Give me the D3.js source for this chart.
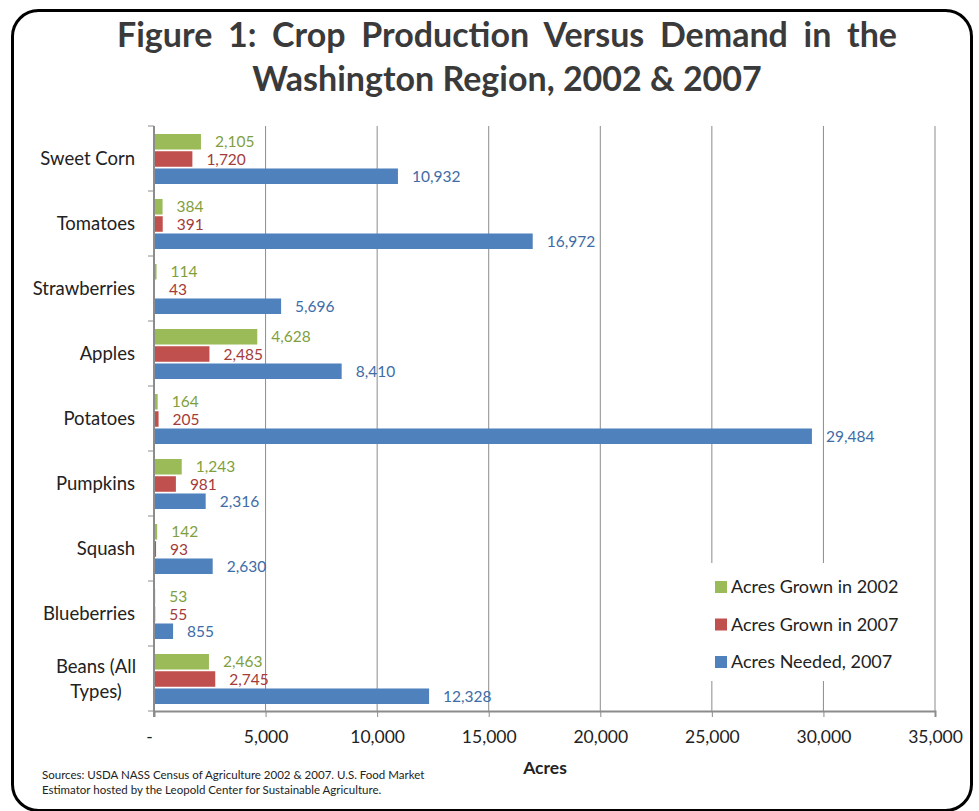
<!DOCTYPE html>
<html>
<head>
<meta charset="utf-8">
<script src="https://cdn.jsdelivr.net/npm/d3@7"></script>
<style>
  html, body { margin: 0; padding: 0; background: #fff; }
  svg { display: block; }
  text { font-family: Lato, "Open Sans", sans-serif; }
</style>
</head>
<body>
<div id="chart"></div>
<script>
const categories = ["Sweet Corn", "Tomatoes", "Strawberries", "Apples", "Potatoes", "Pumpkins", "Squash", "Blueberries", "Beans (All Types)"];
const categoryLines = [["Sweet Corn"], ["Tomatoes"], ["Strawberries"], ["Apples"], ["Potatoes"], ["Pumpkins"], ["Squash"], ["Blueberries"], ["Beans (All", "Types)"]];
const seriesNames = ["Acres Grown in 2002", "Acres Grown in 2007", "Acres Needed, 2007"];
const grown2002 = [2105, 384, 114, 4628, 164, 1243, 142, 53, 2463];
const grown2007 = [1720, 391, 43, 2485, 205, 981, 93, 55, 2745];
const needed2007 = [10932, 16972, 5696, 8410, 29484, 2316, 2630, 855, 12328];
const xTicks = [0, 5000, 10000, 15000, 20000, 25000, 30000, 35000];
const titleLines = ["Figure 1: Crop Production Versus Demand in the", "Washington Region, 2002 & 2007"];
const xAxisTitle = "Acres";
const sourceLines = ["Sources: USDA NASS Census of Agriculture 2002 & 2007.  U.S. Food Market", "Estimator hosted by the Leopold Center for Sustainable Agriculture."];

const barColors = ["#9BBB59", "#C0504D", "#4F81BD"];
const labelColors = ["#7F9F3E", "#A33B39", "#3E6CA6"];
const seriesValues = [grown2002, grown2007, needed2007];

const W = 979, H = 811;
const svg = d3.select("#chart").append("svg").attr("width", W).attr("height", H);

// Frame
svg.append("rect")
  .attr("x", 12.5).attr("y", 10.5).attr("width", 959).attr("height", 800)
  .attr("rx", 26).attr("ry", 26)
  .attr("fill", "#fff").attr("stroke", "#000").attr("stroke-width", 3);

// Title (justified first line)
const t1 = svg.append("text").attr("x", 117).attr("y", 47)
  .attr("font-size", 34).attr("font-weight", 700).attr("fill", "#3a3a3a")
  .text(titleLines[0]);
const w1 = t1.node().getComputedTextLength();
const nSpaces = titleLines[0].split(" ").length - 1;
t1.attr("word-spacing", Math.max(0, (897 - 117 - w1) / nSpaces));
svg.append("text").attr("x", 507).attr("y", 91).attr("text-anchor", "middle")
  .attr("font-size", 34).attr("font-weight", 700).attr("fill", "#3a3a3a")
  .text(titleLines[1]);

// Scales
const pL = 154, pR = 935, pT = 126, pB = 711;
const x = d3.scaleLinear().domain([0, 35000]).range([pL, pR]);
const y = d3.scaleBand().domain(categories).range([pT, pB]).paddingInner(0).paddingOuter(0);
const ySub = d3.scaleBand().domain([0, 1, 2]).range([8, y.bandwidth() - 7]).paddingInner(0.1);

// Gridlines
svg.append("g").selectAll("line").data(xTicks.slice(1)).join("line")
  .attr("x1", d => x(d)).attr("x2", d => x(d))
  .attr("y1", pT).attr("y2", pB)
  .attr("stroke", "#8c8c8c").attr("stroke-width", 1);

// Bars
const groups = svg.append("g").selectAll("g").data(categories).join("g")
  .attr("transform", d => `translate(0,${y(d)})`);
groups.each(function(cat, ci) {
  const g = d3.select(this);
  seriesValues.forEach((vals, si) => {
    g.append("rect")
      .attr("x", x(0)).attr("y", ySub(si))
      .attr("width", Math.max(0, x(vals[ci]) - x(0)))
      .attr("height", ySub.bandwidth())
      .attr("fill", barColors[si]);
    g.append("text")
      .attr("x", x(vals[ci]) + 14)
      .attr("y", ySub(si) + ySub.bandwidth() / 2)
      .attr("dy", "0.36em")
      .attr("font-size", 15.5)
      .attr("fill", labelColors[si])
      .text(d3.format(",")(vals[ci]));
  });
});

// X axis
const xAxis = d3.axisBottom(x).tickValues(xTicks).tickSize(6).tickPadding(14)
  .tickFormat(d => d === 0 ? "-" : d3.format(",")(d));
const gx = svg.append("g").attr("transform", `translate(0,${pB})`).call(xAxis);
gx.select(".domain").attr("stroke", "#8c8c8c").attr("stroke-width", 2);
gx.selectAll(".tick line").attr("stroke", "#8c8c8c");
gx.selectAll(".tick text").attr("font-size", 17.5).attr("fill", "#222").attr("font-family", "Lato, sans-serif");
gx.selectAll(".tick text").filter(d => d === 0).attr("dx", -5);

// Y axis line & ticks at band boundaries
svg.append("line").attr("x1", pL).attr("x2", pL).attr("y1", pT).attr("y2", pB + 6)
  .attr("stroke", "#8c8c8c").attr("stroke-width", 2);
const boundaries = categories.map(c => y(c)).concat([pB]);
svg.append("g").selectAll("line").data(boundaries).join("line")
  .attr("x1", pL - 6).attr("x2", pL).attr("y1", d => d).attr("y2", d => d)
  .attr("stroke", "#8c8c8c").attr("stroke-width", 1);

// Category labels
const catFont = 18.5;
categories.forEach((c, i) => {
  const lines = categoryLines[i];
  const cy = y(c) + y.bandwidth() / 2;
  if (lines.length === 1) {
    svg.append("text").attr("x", 135).attr("y", cy).attr("dy", "0.36em")
      .attr("text-anchor", "end").attr("font-size", catFont).attr("fill", "#222").text(lines[0]);
  } else {
    const tmp = svg.append("text").attr("font-size", catFont).text(lines[0]);
    const wmax = tmp.node().getComputedTextLength();
    tmp.remove();
    const lh = 25;
    lines.forEach((ln, k) => {
      svg.append("text").attr("x", 136 - wmax / 2)
        .attr("y", cy + (k - (lines.length - 1) / 2) * lh).attr("dy", "0.36em")
        .attr("text-anchor", "middle").attr("font-size", catFont).attr("fill", "#222").text(ln);
    });
  }
});

// Legend
const lg = svg.append("g");
lg.append("rect").attr("x", 703).attr("y", 563).attr("width", 200).attr("height", 118).attr("fill", "#fff");
seriesNames.forEach((n, i) => {
  const ly = 587 + i * 37.5;
  lg.append("rect").attr("x", 715).attr("y", ly - 6).attr("width", 12).attr("height", 12).attr("fill", barColors[i]);
  lg.append("text").attr("x", 731).attr("y", ly).attr("dy", "0.36em")
    .attr("font-size", 18).attr("fill", "#222").text(n);
});

// Axis title
svg.append("text").attr("x", 545).attr("y", 774).attr("text-anchor", "middle")
  .attr("font-size", 17.5).attr("font-weight", 700).attr("fill", "#222").text(xAxisTitle);

// Sources
sourceLines.forEach((s, i) => {
  svg.append("text").attr("x", 42).attr("y", 779 + i * 15)
    .attr("font-size", 11.5).attr("fill", "#222").text(s);
});
</script>
</body>
</html>
